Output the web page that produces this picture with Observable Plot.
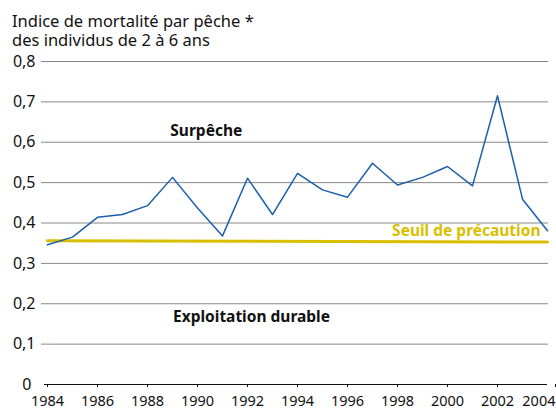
<!DOCTYPE html>
<html>
<head>
<meta charset="utf-8">
<script src="https://cdn.jsdelivr.net/npm/d3@7"></script>
<script src="https://cdn.jsdelivr.net/npm/@observablehq/plot@0.6"></script>
<style>
  html, body { margin: 0; padding: 0; background: #fff; }
  body { width: 556px; height: 410px; overflow: hidden; font-family: "Noto Sans", sans-serif; }
  #title { padding: 10.5px 0 0 12px; font-size: 16.5px; line-height: 19.5px; color: #111; height: 39.5px; box-sizing: content-box; white-space: nowrap; }
  #chart svg { overflow: visible; }
</style>
</head>
<body>
<div id="title">Indice de mortalité par pêche *<br>des individus de 2 à 6 ans</div>
<div id="chart"></div>
<script>
const years = [1984,1985,1986,1987,1988,1989,1990,1991,1992,1993,1994,1995,1996,1997,1998,1999,2000,2001,2002,2003,2004];
const mortality = [0.346,0.365,0.414,0.421,0.443,0.513,0.437,0.368,0.511,0.421,0.523,0.482,0.464,0.548,0.494,0.513,0.540,0.492,0.715,0.459,0.381];
const yTicks = [0,0.1,0.2,0.3,0.4,0.5,0.6,0.7,0.8];
const xTicks = [1984,1986,1988,1990,1992,1994,1996,1998,2000,2002,2004];
const thresholdYears = [1984, 2004];
const thresholdValues = [0.356, 0.353];
const zoneLabels = [
  {text: "Surpêche", year: 1990.35, value: 0.627},
  {text: "Exploitation durable", year: 1992.16, value: 0.167}
];
const thresholdLabel = [{text: "Seuil de précaution", year: 2003.72, value: 0.379}];

const series = years.map((y, i) => ({year: y, value: mortality[i]}));
const threshold = thresholdYears.map((y, i) => ({year: y, value: thresholdValues[i]}));
const frFmt = d => d === 0 ? "0" : d.toFixed(1).replace(".", ",");
const lastTick = xTicks[xTicks.length - 1];

const chart = Plot.plot({
  width: 556,
  height: 360,
  marginTop: 11,
  marginBottom: 26,
  marginLeft: 47,
  marginRight: 9,
  style: {fontFamily: "Noto Sans, sans-serif", fontSize: "15px", color: "#111", background: "#fff", overflow: "visible"},
  x: {domain: [1984, 2004], label: null},
  y: {domain: [0, 0.8], label: null},
  marks: [
    Plot.ruleY(yTicks.filter(d => d > 0), {stroke: "#888", strokeWidth: 1, insetLeft: -6, insetRight: -1}),
    Plot.ruleY([0], {stroke: "#111", strokeWidth: 1.2, insetLeft: -3}),
    Plot.axisY(yTicks.filter(d => d > 0), {tickSize: 0, tickPadding: 12, tickFormat: frFmt, fontSize: 16, label: null}),
    Plot.axisY([0], {tickSize: 0, tickPadding: 16, tickFormat: frFmt, fontSize: 16, label: null}),
    Plot.axisX(xTicks.filter(d => d !== lastTick), {tickSize: 3, tickPadding: 8, tickFormat: d => String(d), fontSize: 14.5, label: null}),
    Plot.axisX([lastTick], {tickSize: 3, tickPadding: 8, tickFormat: d => String(d), fontSize: 14.5, textAnchor: "end", dx: 8, label: null}),
    Plot.line(threshold, {x: "year", y: "value", stroke: "#d9bf00", strokeWidth: 3}),
    Plot.line(series, {x: "year", y: "value", stroke: "#1a5fac", strokeWidth: 1.5}),
    Plot.text(zoneLabels, {x: "year", y: "value", text: "text", fill: "#111", textAnchor: "middle", fontWeight: "bold", fontSize: 15.5}),
    Plot.text(thresholdLabel, {x: "year", y: "value", text: "text", fill: "#d9bf00", textAnchor: "end", fontWeight: "bold", fontSize: 15.5})
  ]
});
document.getElementById("chart").appendChild(chart);
</script>
</body>
</html>
